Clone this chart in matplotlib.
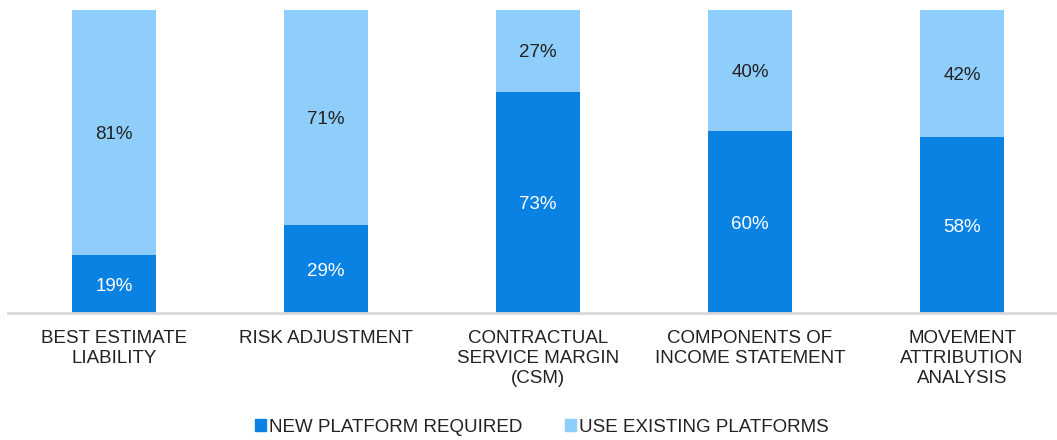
import matplotlib.pyplot as plt
import numpy as np
from matplotlib.patches import Patch

plt.rcParams['font.family'] = ['Liberation Sans', 'DejaVu Sans']

categories = ["BEST ESTIMATE\nLIABILITY", "RISK ADJUSTMENT", "CONTRACTUAL\nSERVICE MARGIN\n(CSM)",
              "COMPONENTS OF\nINCOME STATEMENT", "MOVEMENT\nATTRIBUTION\nANALYSIS"]
new_platform = [19, 29, 73, 60, 58]
existing = [81, 71, 27, 40, 42]

dark = "#0A82E4"
light = "#8FCDFB"
fs = 13.5

fig = plt.figure(figsize=(10.57, 4.4), dpi=100)
ax = fig.add_axes([8/1057, 1-313/440, 1-8/1057, 303/440])

x = np.arange(len(categories))
w = 0.396
ax.bar(x, new_platform, width=w, color=dark)
ax.bar(x, existing, width=w, bottom=new_platform, color=light)

for i in range(len(x)):
    ax.text(x[i], new_platform[i]/2, f"{new_platform[i]}%", ha="center", va="center_baseline",
            color="white", fontsize=fs)
    ax.text(x[i], new_platform[i] + existing[i]/2, f"{existing[i]}%", ha="center",
            va="center_baseline", color="#222222", fontsize=fs)

ax.set_xlim(-0.5, (1057-8)/212 - 0.5)
ax.set_ylim(0, 100)
ax.set_xticks(x)
ax.set_xticklabels(categories, fontsize=fs, color="#222222", linespacing=1.2)
ax.tick_params(axis="x", length=0, pad=12.5)
ax.set_yticks([])
for s in ["top", "right", "left"]:
    ax.spines[s].set_visible(False)
ax.spines["bottom"].set_color("#d9d9d9")
ax.spines["bottom"].set_linewidth(2)

handles = [Patch(color=dark, label="NEW PLATFORM REQUIRED"),
           Patch(color=light, label="USE EXISTING PLATFORMS")]
fig.legend(handles=handles, loc="center", bbox_to_anchor=(542/1057, 1-427/440), ncol=2,
           frameon=False, fontsize=fs, handlelength=0.58, handleheight=0.58,
           handletextpad=0.15, columnspacing=2.3, labelcolor="#222222")

plt.savefig("out.png", dpi=100)
